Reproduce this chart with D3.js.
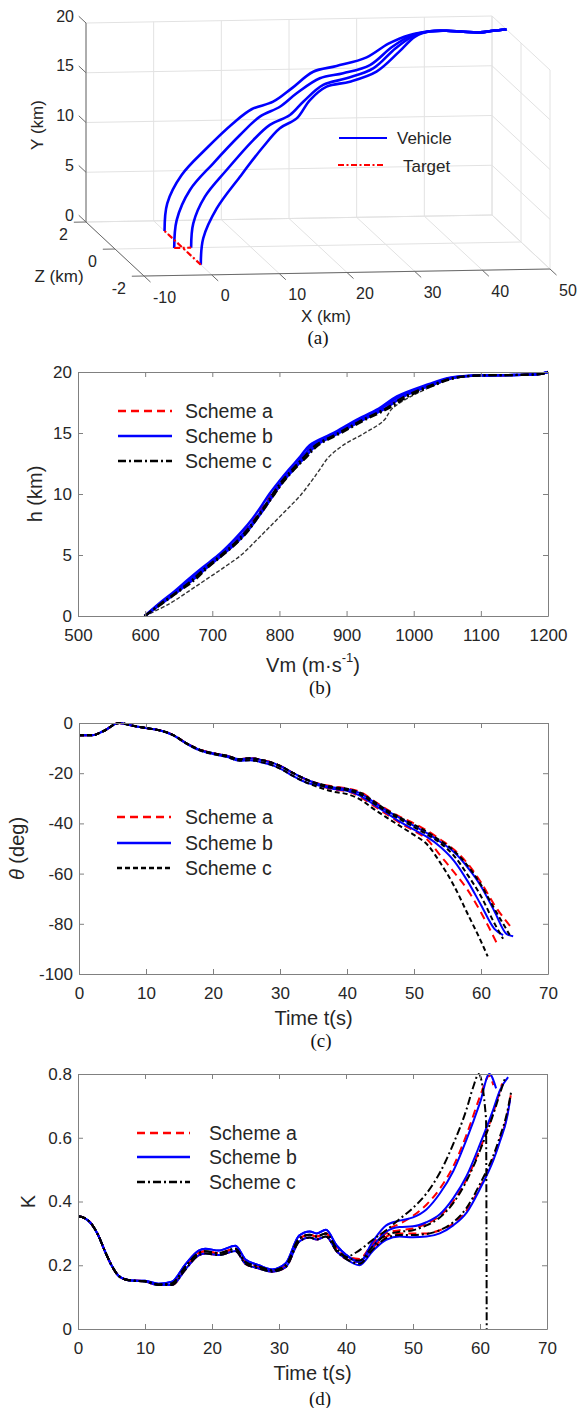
<!DOCTYPE html>
<html>
<head>
<meta charset="utf-8">
<script src="https://cdn.jsdelivr.net/npm/d3@7"></script>
<style>
  body { margin: 0; background: #fff; }
  svg { display: block; font-family: "Liberation Sans", Arial, sans-serif; }
</style>
</head>
<body>
<svg id="fig" width="578" height="1408"></svg>
<script>
// ---------- panel (a): 3-D trajectories, km ----------
var tickX3 = [-10, 0, 10, 20, 30, 40, 50];
var tickY3 = [0, 5, 10, 15, 20];
var tickZ3 = [2, 0, -2];

var veh1X = [0, 0.36, 2.44, 6.09, 9.97, 12.65, 15.79, 18.47, 21.61, 25.02, 29.41, 32.6, 35.6, 38.7, 41.1, 43.6, 46.1, 48.0, 50];
var veh1Y = [0, 2.80, 5.65, 8.32, 10.82, 12.22, 12.97, 14.32, 15.98, 16.54, 17.39, 18.75, 19.6, 19.95, 19.98, 19.85, 19.76, 19.9, 20];
var veh1Z = [1.25, 1.23, 1.21, 1.19, 1.17, 1.15, 1.13, 1.10, 1.08, 1.06, 1.04, 1.02, 1, 1, 1, 1, 1, 1, 1];

var veh2X = [-1.25, -0.71, 1.44, 5.06, 9.18, 12.31, 15.44, 18.09, 21.71, 25.33, 29.45, 32.9, 35.9, 38.7, 41.1, 43.6, 46.1, 48.0, 50];
var veh2Y = [0, 2.69, 5.57, 8.10, 10.78, 12.47, 13.32, 14.53, 15.88, 16.23, 16.9, 18.55, 19.55, 19.95, 19.98, 19.85, 19.76, 19.9, 20];
var veh2Z = [0, 0.08, 0.17, 0.25, 0.33, 0.42, 0.5, 0.58, 0.67, 0.75, 0.83, 0.92, 1, 1, 1, 1, 1, 1, 1];

var veh3X = [1.25, 1.74, 3.65, 7.03, 11.14, 13.79, 16.92, 19.06, 22.2, 25.83, 29.94, 33.4, 36.2, 38.7, 41.1, 43.6, 46.1, 48.0, 50];
var veh3Y = [0, 2.33, 4.87, 7.4, 10.25, 11.62, 12.47, 13.67, 15.2, 15.72, 16.56, 18.4, 19.5, 19.95, 19.98, 19.85, 19.76, 19.9, 20];
var veh3Z = [0, 0.08, 0.17, 0.25, 0.33, 0.42, 0.5, 0.58, 0.67, 0.75, 0.83, 0.92, 1, 1, 1, 1, 1, 1, 1];

var veh4X = [0, 0.77, 3.15, 6.99, 10.83, 13.7, 16.57, 18.94, 21.81, 25.65, 29.99, 33.7, 36.5, 38.7, 41.1, 43.6, 46.1, 48.0, 50];
var veh4Y = [0, 2.39, 5.12, 8.0, 10.71, 12.28, 12.99, 14.55, 15.6, 15.8, 16.5, 18.2, 19.45, 19.95, 19.98, 19.85, 19.76, 19.9, 20];
var veh4Z = [-1.25, -1.06, -0.88, -0.69, -0.5, -0.31, -0.13, 0.06, 0.25, 0.44, 0.63, 0.81, 1, 1, 1, 1, 1, 1, 1];

// target cross on the ground
var targetArm = [-1.25, 1.25];

// ---------- panel (b): h vs Vm ----------
var hLevels = [0, 1, 2, 3, 4, 5, 6, 7, 8, 9, 10, 11, 12, 13, 14, 15, 16, 17, 18, 19, 19.5, 19.7, 19.75, 19.85, 20];
var vmA1 = [599, 621, 645, 666, 688, 711, 731, 748, 763, 776, 788, 801, 816, 832, 848, 883, 915, 951, 978, 1025, 1053, 1087, 1150, 1190, 1200];
var vmA2 = [600, 623, 648, 671, 692, 715, 735, 752, 766, 780, 792, 805, 820, 837, 853, 887, 919, 955, 983, 1029, 1057, 1089, 1150, 1190, 1200];
var vmB1 = [599, 620, 643, 664, 686, 709, 728, 745, 760, 773, 785, 799, 814, 830, 845, 880, 912, 948, 975, 1022, 1050, 1085, 1150, 1190, 1200];
var vmB2 = [600, 622, 646, 668, 690, 713, 733, 750, 765, 778, 790, 803, 818, 834, 850, 884, 916, 951, 979, 1026, 1054, 1088, 1150, 1190, 1200];
var vmB3 = [600, 624, 649, 672, 693, 715, 736, 753, 767, 780, 792, 805, 821, 838, 855, 889, 922, 957, 985, 1030, 1058, 1089, 1150, 1190, 1200];
var vmC1 = [599, 625, 650, 675, 694, 716, 737, 754, 767, 780, 793, 806, 822, 840, 858, 892, 925, 962, 992, 1034, 1062, 1090, 1150, 1190, 1200];
var vmC2 = [600, 623, 648, 671, 691, 713, 734, 751, 765, 778, 790, 803, 819, 836, 854, 888, 921, 958, 987, 1030, 1058, 1089, 1150, 1190, 1200];
var vmC3 = [599, 636, 664, 691, 718, 743, 762, 780, 798, 816, 833, 847, 860, 873, 895, 927, 955, 968, 996, 1035, 1059, 1090, 1140, 1190, 1200];
var vmTicks = [500, 600, 700, 800, 900, 1000, 1100, 1200];
var hTicks = [0, 5, 10, 15, 20];

// ---------- panel (c): theta vs time ----------
var tHeadC = [0, 2, 3.6, 6, 8, 10, 12, 14, 16, 18, 20, 22, 24, 25.5, 27, 29, 30.4, 32, 34];
var thHead = [-4.9, -4.9, -3.3, 0, -1.1, -2, -2.9, -4.7, -8, -10.6, -12, -13, -14.4, -14, -14.6, -16, -17.6, -20, -22.6];
var thHeadLo = [-4.9, -4.9, -3.3, 0, -1.1, -2, -2.9, -4.8, -8.2, -10.9, -12.4, -13.5, -15, -14.8, -15.5, -17, -18.7, -21.2, -23.8];
var tailT13 = [36, 38, 40, 42, 44, 46, 48, 50, 52, 54, 56, 58, 60];
var thA1 = [-25, -26.5, -27.2, -29.5, -33, -36.5, -40, -43, -46.5, -53, -59.5, -66.5, -75.5, -80.5, -87.4];
var thA2 = [-24.3, -25.3, -26, -27.5, -31, -34.5, -37.5, -40, -43, -46.5, -50.5, -56, -63.5, -72.5, -81.4];
var thB1 = [-25, -26.3, -27, -29, -32.5, -36, -39.5, -42.5, -45.5, -49.5, -55, -63, -72.5, -82, -84.5];
var thB2 = [-24.5, -25.7, -26.3, -28, -31.5, -35, -38, -41, -44, -47.5, -51.5, -57.5, -65, -75, -84, -85];
var thC1 = [-25.8, -27.4, -28.3, -30.5, -34.3, -37.8, -41.2, -44.6, -48.5, -56, -65, -76, -87, -93];
var thC2 = [-24.8, -26, -26.8, -28.5, -32, -35.5, -38.5, -41.5, -44.5, -48, -53, -60.5, -69, -79.8, -86];
var thC3 = [-24.3, -25.5, -26.2, -27.8, -31.2, -34.8, -37.8, -40.5, -43.5, -47, -51, -56.8, -64.5, -74, -84.5];
var thEndA1 = [61, 62.3], thEndA2 = [62, 64.5], thEndB1 = [62, 63.3], thEndB2 = [62, 63.8, 64.8];
var thEndC1 = [61], thEndC2 = [62, 63.3], thEndC3 = [62, 64.3];
var timeTicks = [0, 10, 20, 30, 40, 50, 60, 70];
var thTicks = [-100, -80, -60, -40, -20, 0];

// ---------- panel (d): K vs time ----------
var tHeadD = [0, 1, 2, 3, 4, 5, 6, 7, 8, 10, 12, 14, 16, 18, 19, 21, 23.5, 25, 27, 29, 31, 33, 34.6, 35.6, 37, 38.6, 40];
var kHead = [0.354, 0.348, 0.33, 0.295, 0.245, 0.2, 0.168, 0.156, 0.152, 0.15, 0.14, 0.143, 0.195, 0.238, 0.244, 0.238, 0.252, 0.21, 0.196, 0.184, 0.2, 0.283, 0.296, 0.29, 0.3, 0.252, 0.226];
var kHeadHi = [0.354, 0.348, 0.33, 0.295, 0.245, 0.2, 0.168, 0.156, 0.152, 0.151, 0.142, 0.148, 0.202, 0.246, 0.252, 0.246, 0.261, 0.218, 0.2, 0.187, 0.206, 0.293, 0.306, 0.3, 0.311, 0.262, 0.233];
var kHeadLo = [0.354, 0.348, 0.33, 0.295, 0.245, 0.2, 0.168, 0.156, 0.152, 0.149, 0.138, 0.138, 0.186, 0.231, 0.237, 0.232, 0.245, 0.204, 0.19, 0.18, 0.194, 0.274, 0.287, 0.281, 0.29, 0.244, 0.22];
var tailT11 = [42, 44, 46, 48, 50, 52, 54, 56, 58, 60, 62];
var kA1 = [0.22, 0.27, 0.31, 0.33, 0.355, 0.39, 0.44, 0.51, 0.61, 0.73, 0.785, 0.795, 0.765];
var kA2 = [0.22, 0.265, 0.3, 0.31, 0.315, 0.33, 0.355, 0.4, 0.47, 0.565, 0.68, 0.77];
var kA3 = [0.21, 0.255, 0.29, 0.3, 0.3, 0.3, 0.31, 0.33, 0.372, 0.445, 0.535, 0.595, 0.665, 0.735];
var kB1 = [0.21, 0.275, 0.325, 0.34, 0.35, 0.375, 0.425, 0.495, 0.595, 0.71, 0.8, 0.755];
var kB2 = [0.21, 0.26, 0.305, 0.32, 0.322, 0.335, 0.36, 0.41, 0.48, 0.58, 0.69, 0.75, 0.79];
var kB3 = [0.2, 0.245, 0.28, 0.29, 0.288, 0.29, 0.3, 0.325, 0.365, 0.44, 0.53, 0.59, 0.66, 0.72];
var kC1 = [0.24, 0.28, 0.31, 0.345, 0.38, 0.425, 0.49, 0.58, 0.69, 0.76, 0.8, 0.66, 0];
var kC2 = [0.215, 0.26, 0.295, 0.305, 0.31, 0.325, 0.35, 0.395, 0.465, 0.56, 0.675, 0.74, 0.785];
var kC3 = [0.205, 0.25, 0.285, 0.295, 0.295, 0.298, 0.31, 0.335, 0.38, 0.455, 0.545, 0.605, 0.675, 0.75];
var tA1 = [42, 44, 46, 48, 50, 52, 54, 56, 58, 60, 61, 61.3, 62];
var tB1 = [42, 44, 46, 48, 50, 52, 54, 56, 58, 60, 61.4, 62.4];
var tC1 = [41.5, 44, 46, 48, 50, 52, 54, 56, 58, 59, 59.8, 60.9, 61];
var kTicks = [0, 0.2, 0.4, 0.6, 0.8];

var legendNames = ['Scheme a', 'Scheme b', 'Scheme c'];

var RED = '#ff0000', BLUE = '#0000ff', BLACK = '#000000';
var TXT = '#262626', FRAME = '#808080';

var svg = d3.select('#fig');
svg.append('rect').attr('width', 578).attr('height', 1408).attr('fill', '#fff');

function fmt(d) { return String(d); }

// ================= panel (a) =================
(function () {
  var fx = d3.scaleLinear().domain([-10, 50]).range([0, 1]);
  var fy = d3.scaleLinear().domain([0, 20]).range([0, 1]);
  var fz = d3.scaleLinear().domain([2, -2]).range([0, 1]);
  function proj(x, y, z) {
    var a = fx(x), b = fy(y), c = fz(z);
    return [86 + a * 406 + c * 58, 222 - a * 7 - b * 199 + c * 54];
  }
  var g = svg.append('g');
  function seg(p, q, color, w) {
    var a = proj(p[0], p[1], p[2]), b = proj(q[0], q[1], q[2]);
    g.append('line').attr('x1', a[0]).attr('y1', a[1]).attr('x2', b[0]).attr('y2', b[1])
      .attr('stroke', color).attr('stroke-width', w || 1);
  }
  var grid = '#e2e2e2';
  // back wall z=2
  tickY3.forEach(function (y) { seg([-10, y, 2], [50, y, 2], grid); });
  tickX3.forEach(function (x) { seg([x, 0, 2], [x, 20, 2], grid); });
  // floor y=0
  tickX3.forEach(function (x) { seg([x, 0, 2], [x, 0, -2], grid); });
  tickZ3.forEach(function (z) { seg([-10, 0, z], [50, 0, z], grid); });
  // right wall x=50
  tickY3.forEach(function (y) { seg([50, y, 2], [50, y, -2], grid); });
  tickZ3.forEach(function (z) { seg([50, 0, z], [50, 20, z], grid); });

  // axis lines
  var axc = '#6a6a6a';
  seg([-10, 0, -2], [50, 0, -2], axc);
  seg([-10, 0, 2], [-10, 20, 2], axc);
  seg([-10, 0, 2], [-10, 0, -2], axc);
  tickX3.forEach(function (x) { seg([x, 0, -2], [x, 0, -2.45], axc); });
  tickY3.forEach(function (y) { seg([-10, y, 2], [-10, y, 2.5], axc); });
  tickZ3.forEach(function (z) { seg([-10, 0, z], [-11.8, 0, z], axc); });

  var tl = g.append('g').attr('fill', TXT).attr('font-size', 16);
  tickX3.forEach(function (x) {
    var p = proj(x, 0, -2);
    tl.append('text').attr('x', p[0] + 9).attr('y', p[1] + 21).attr('dominant-baseline', 'central').text(fmt(x));
  });
  tickY3.forEach(function (y) {
    var p = proj(-10, y, 2);
    tl.append('text').attr('x', 74).attr('y', p[1] - 7).attr('text-anchor', 'end').attr('dominant-baseline', 'central').text(fmt(y));
  });
  tickZ3.forEach(function (z) {
    var p = proj(-10, 0, z);
    tl.append('text').attr('x', p[0] - 18).attr('y', p[1] + 12).attr('text-anchor', 'end').attr('dominant-baseline', 'central').text(fmt(z));
  });
  var lab = g.append('g').attr('fill', TXT).attr('font-size', 17).attr('text-anchor', 'middle').attr('dominant-baseline', 'central');
  lab.append('text').attr('transform', 'translate(37,125) rotate(-90)').text('Y (km)');
  lab.append('text').attr('x', 59).attr('y', 276).text('Z (km)');
  lab.append('text').attr('x', 326).attr('y', 316).text('X (km)');

  var line3 = d3.line().curve(d3.curveCatmullRom.alpha(0.5));
  [[veh1X, veh1Y, veh1Z], [veh2X, veh2Y, veh2Z], [veh3X, veh3Y, veh3Z], [veh4X, veh4Y, veh4Z]].forEach(function (v) {
    var pts = v[0].map(function (d, i) { return proj(d, v[1][i], v[2][i]); });
    g.append('path').attr('d', line3(pts)).attr('fill', 'none').attr('stroke', BLUE).attr('stroke-width', 2.6);
  });
  // target cross
  var dashT = '6,2.5,2,2.5';
  var a1 = proj(0, 0, targetArm[0]), a2 = proj(0, 0, targetArm[1]);
  var b1 = proj(targetArm[0], 0, 0), b2 = proj(targetArm[1], 0, 0);
  [[a1, a2], [b1, b2]].forEach(function (s) {
    g.append('line').attr('x1', s[0][0]).attr('y1', s[0][1]).attr('x2', s[1][0]).attr('y2', s[1][1])
      .attr('stroke', RED).attr('stroke-width', 2.2).attr('stroke-dasharray', dashT);
  });

  // legend
  var lg = g.append('g');
  lg.append('line').attr('x1', 339).attr('x2', 387).attr('y1', 138).attr('y2', 138).attr('stroke', BLUE).attr('stroke-width', 2.2);
  lg.append('line').attr('x1', 338).attr('x2', 385).attr('y1', 165).attr('y2', 165).attr('stroke', RED).attr('stroke-width', 2).attr('stroke-dasharray', dashT);
  lg.append('text').attr('x', 397).attr('y', 138).attr('dominant-baseline', 'central').attr('font-size', 17).attr('fill', TXT).text('Vehicle');
  lg.append('text').attr('x', 403).attr('y', 166).attr('dominant-baseline', 'central').attr('font-size', 17).attr('fill', TXT).text('Target');

  svg.append('text').attr('x', 318).attr('y', 337).attr('text-anchor', 'middle').attr('dominant-baseline', 'central')
    .attr('font-family', '"Liberation Serif", "Times New Roman", serif').attr('font-size', 19).attr('fill', '#111').text('(a)');
})();

// ================= 2-D panels =================
function drawPanel(p) {
  var g = svg.append('g');
  var x = d3.scaleLinear().domain(p.xDomain).range([p.left, p.right]);
  var y = d3.scaleLinear().domain(p.yDomain).range([p.bottom, p.top]);
  var cid = 'clip' + p.id;
  g.append('clipPath').attr('id', cid).append('rect')
    .attr('x', p.left).attr('y', p.top - 1.5).attr('width', p.right - p.left).attr('height', p.bottom - p.top + 1.5);

  var plot = g.append('g').attr('clip-path', 'url(#' + cid + ')');
  p.series.forEach(function (s) {
    var pts = s.xs.map(function (d, i) { return [x(d), y(s.ys[i])]; });
    plot.append('path').attr('d', d3.line().curve(p.curve)(pts))
      .attr('fill', 'none').attr('stroke', s.color).attr('stroke-width', s.width || 2)
      .attr('stroke-dasharray', s.dash || null).attr('stroke-linejoin', 'round');
  });

  function styleAxis(sel) {
    sel.attr('font-family', null).attr('font-size', 17);
    sel.selectAll('.domain, .tick line').attr('stroke', FRAME);
    sel.selectAll('text').attr('fill', TXT);
  }
  g.append('g').attr('transform', 'translate(0,' + p.bottom + ')')
    .call(d3.axisBottom(x).tickValues(p.xTicks).tickSizeInner(-5).tickSizeOuter(0).tickPadding(13).tickFormat(fmt)).call(styleAxis);
  g.append('g').attr('transform', 'translate(' + p.left + ',0)')
    .call(d3.axisLeft(y).tickValues(p.yTicks).tickSizeInner(-5).tickSizeOuter(0).tickPadding(6).tickFormat(fmt)).call(styleAxis);
  g.append('g').attr('transform', 'translate(0,' + p.top + ')')
    .call(d3.axisTop(x).tickValues(p.xTicks).tickSizeInner(-5).tickSizeOuter(0).tickFormat('')).call(styleAxis);
  g.append('g').attr('transform', 'translate(' + p.right + ',0)')
    .call(d3.axisRight(y).tickValues(p.yTicks).tickSizeInner(-5).tickSizeOuter(0).tickFormat('')).call(styleAxis);

  // legend
  var lg = g.append('g');
  p.legend.forEach(function (it, i) {
    var yy = p.legendY[i];
    lg.append('line').attr('x1', p.legendX[0]).attr('x2', p.legendX[1]).attr('y1', yy).attr('y2', yy)
      .attr('stroke', it.color).attr('stroke-width', 2.4).attr('stroke-dasharray', it.dash || null);
    lg.append('text').attr('x', p.legendX[2]).attr('y', yy).attr('dominant-baseline', 'central')
      .attr('font-size', 19.5).attr('fill', TXT).text(legendNames[i]);
  });

  // labels
  var xl = g.append('text').attr('x', (p.left + p.right) / 2).attr('y', p.xLabelY).attr('text-anchor', 'middle')
    .attr('dominant-baseline', 'central').attr('font-size', 20).attr('fill', TXT);
  p.xLabel(xl);
  var yl = g.append('text').attr('transform', 'translate(' + p.yLabelX + ',' + ((p.top + p.bottom) / 2) + ') rotate(-90)')
    .attr('text-anchor', 'middle').attr('dominant-baseline', 'central').attr('font-size', 20).attr('fill', TXT);
  p.yLabel(yl);

  svg.append('text').attr('x', p.capX).attr('y', p.capY).attr('text-anchor', 'middle').attr('dominant-baseline', 'central')
    .attr('font-family', '"Liberation Serif", "Times New Roman", serif').attr('font-size', 19).attr('fill', '#111').text(p.caption);
}

var dashA = '8,5', dashC = '8,3,2,3', dashCc = '5,3';

// ---- (b)
drawPanel({
  id: 'b', left: 78, right: 548, top: 372, bottom: 616,
  xDomain: [500, 1200], yDomain: [0, 20], xTicks: vmTicks, yTicks: hTicks,
  curve: d3.curveCatmullRom.alpha(0.5),
  series: [
    { xs: vmC3, ys: hLevels, color: '#333', dash: '4,2', width: 1.4 },
    { xs: vmA1, ys: hLevels, color: RED, dash: dashA },
    { xs: vmA2, ys: hLevels, color: RED, dash: dashA },
    { xs: vmB1, ys: hLevels, color: BLUE, width: 2.4 },
    { xs: vmB2, ys: hLevels, color: BLUE, width: 2.4 },
    { xs: vmB3, ys: hLevels, color: BLUE, width: 2.4 },
    { xs: vmC1, ys: hLevels, color: BLACK, dash: dashC, width: 2.2 },
    { xs: vmC2, ys: hLevels, color: BLACK, dash: dashC, width: 2.2 }
  ],
  legend: [{ color: RED, dash: dashA }, { color: BLUE }, { color: BLACK, dash: dashC }],
  legendX: [118, 172, 185], legendY: [411, 436, 461],
  xLabelY: 665, yLabelX: 35, capX: 320, capY: 687, caption: '(b)',
  xLabel: function (t) {
    t.append('tspan').text('Vm (m\u00b7s');
    t.append('tspan').attr('dy', -8).attr('font-size', 13).text('-1');
    t.append('tspan').attr('dy', 8).text(')');
  },
  yLabel: function (t) { t.text('h (km)'); }
});

// ---- (c)
drawPanel({
  id: 'c', left: 79, right: 548, top: 723, bottom: 974,
  xDomain: [0, 70], yDomain: [-100, 0], xTicks: timeTicks, yTicks: thTicks,
  curve: d3.curveMonotoneX,
  series: [
    { xs: tHeadC.concat(tailT13, thEndA1), ys: thHead.concat(thA1), color: RED, dash: dashA },
    { xs: tHeadC.concat(tailT13, thEndA2), ys: thHead.concat(thA2), color: RED, dash: dashA },
    { xs: tHeadC.concat(tailT13, thEndB1), ys: thHeadLo.concat(thB1), color: BLUE },
    { xs: tHeadC.concat(tailT13, thEndB2), ys: thHead.concat(thB2), color: BLUE },
    { xs: tHeadC.concat(tailT13, thEndC1), ys: thHeadLo.concat(thC1), color: BLACK, dash: dashCc },
    { xs: tHeadC.concat(tailT13, thEndC2), ys: thHead.concat(thC2), color: BLACK, dash: dashCc },
    { xs: tHeadC.concat(tailT13, thEndC3), ys: thHead.concat(thC3), color: BLACK, dash: dashCc }
  ],
  legend: [{ color: RED, dash: dashA }, { color: BLUE }, { color: BLACK, dash: dashCc }],
  legendX: [117, 171, 185], legendY: [817, 843, 868],
  xLabelY: 1018, yLabelX: 17, capX: 321, capY: 1040, caption: '(c)',
  xLabel: function (t) { t.text('Time t(s)'); },
  yLabel: function (t) {
    t.append('tspan').attr('font-style', 'italic').text('\u03b8');
    t.append('tspan').text(' (deg)');
  }
});

// ---- (d)
drawPanel({
  id: 'd', left: 78, right: 547, top: 1074, bottom: 1329,
  xDomain: [0, 70], yDomain: [0, 0.8], xTicks: timeTicks, yTicks: kTicks,
  curve: d3.curveMonotoneX,
  series: [
    { xs: tHeadD.concat(tA1), ys: kHead.concat(kA1), color: RED, dash: dashA },
    { xs: tHeadD.concat(tailT11, [63.3]), ys: kHead.concat(kA2), color: RED, dash: dashA },
    { xs: tHeadD.concat(tailT11, [63, 64, 64.6]), ys: kHeadLo.concat(kA3), color: RED, dash: dashA },
    { xs: tHeadD.concat(tB1), ys: kHeadHi.concat(kB1), color: BLUE },
    { xs: tHeadD.concat(tailT11, [63, 64.2]), ys: kHeadHi.concat(kB2), color: BLUE },
    { xs: tHeadD.concat(tailT11, [63, 64, 64.5]), ys: kHeadLo.concat(kB3), color: BLUE },
    { xs: tHeadD.concat(tC1), ys: kHead.concat(kC1), color: BLACK, dash: dashC },
    { xs: tHeadD.concat(tailT11, [63, 63.7]), ys: kHead.concat(kC2), color: BLACK, dash: dashC },
    { xs: tHeadD.concat(tailT11, [63, 64, 64.7]), ys: kHeadLo.concat(kC3), color: BLACK, dash: dashC }
  ],
  legend: [{ color: RED, dash: dashA }, { color: BLUE }, { color: BLACK, dash: dashC }],
  legendX: [137, 190, 209], legendY: [1133, 1157, 1182],
  xLabelY: 1373, yLabelX: 28, capX: 320, capY: 1398, caption: '(d)',
  xLabel: function (t) { t.text('Time t(s)'); },
  yLabel: function (t) { t.text('K'); }
});
</script>
</body>
</html>
